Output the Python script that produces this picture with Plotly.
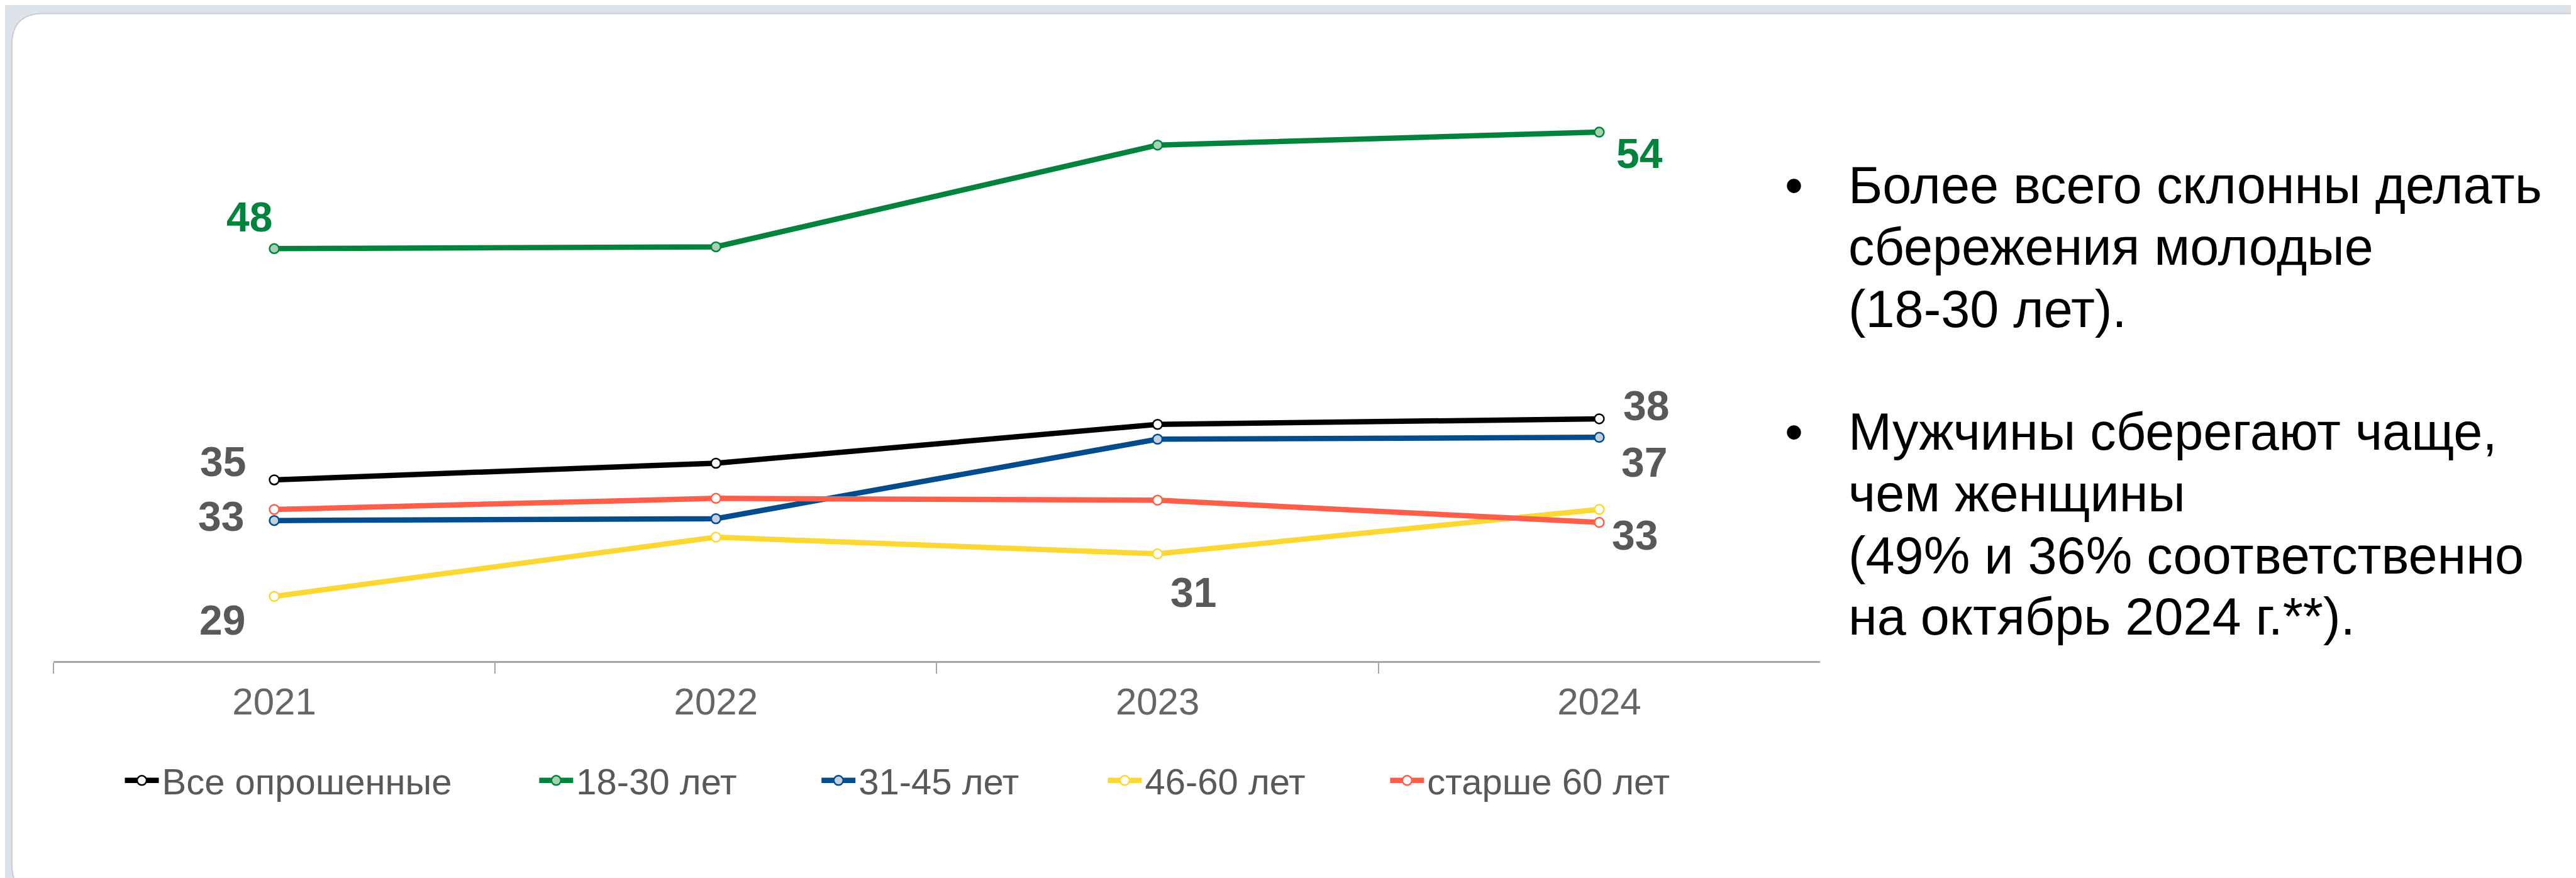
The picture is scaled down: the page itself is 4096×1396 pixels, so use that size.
import plotly.graph_objects as go

# ---------------- data ----------------
years = ["2021", "2022", "2023", "2024"]
all_resp = [35.1, 36.0, 38.1, 38.4]
age_18_30 = [47.6, 47.7, 53.2, 53.9]
age_31_45 = [32.9, 33.0, 37.3, 37.4]
age_46_60 = [28.8, 32.0, 31.1, 33.5]
age_60p = [33.5, 34.1, 34.0, 32.8]

series_names = ["Все опрошенные", "18-30 лет", "31-45 лет", "46-60 лет", "старше 60 лет"]
series_values = [all_resp, age_18_30, age_31_45, age_46_60, age_60p]

bullet_lines_1 = ["Более всего склонны делать", "сбережения молодые", "(18-30 лет)."]
bullet_lines_2 = ["Мужчины сберегают чаще,", "чем женщины",
                  "(49% и 36% соответственно", "на октябрь 2024 г.**)."]

# ---------------- geometry (reference px -> paper) ----------------
RW, RH = 4526, 1543
W, H = 4096, 1396
S = W / RW

def px(x):
    return x / RW

def py(y):
    return 1 - y / RH

FONT = "Liberation Sans, Arial, sans-serif"
line_colors = ["#000000", "#00833C", "#004C8C", "#FDD835", "#FF5F4A"]
marker_fills = ["#FFFFFF", "#A3D3B1", "#C3D0E2", "#FFFFFF", "#FFFFFF"]

fig = go.Figure()
for i, (name, vals) in enumerate(zip(series_names, series_values)):
    fig.add_trace(go.Scatter(
        x=years, y=vals, name=name, mode="lines+markers",
        line=dict(color=line_colors[i], width=8.5),
        marker=dict(size=15, color=marker_fills[i],
                    line=dict(color=line_colors[i], width=2.5)),
        legend="legend" if i == 0 else f"legend{i+1}",
        hoverinfo="skip",
    ))

# data labels: (series index, point index, dx, dy in reference px, color)
label_specs = [
    (1, 0, -44, -56, "#00833C"),
    (1, 3, 71, 37.6, "#00833C"),
    (0, 0, -90.6, -32.4, "#595959"),
    (2, 0, -93.6, -7.2, "#595959"),
    (3, 0, -91.6, 41.4, "#595959"),
    (0, 3, 82.7, -23, "#595959"),
    (2, 3, 79, 43.3, "#595959"),
    (4, 3, 62.5, 22.6, "#595959"),
    (3, 2, 63.4, 67.6, "#595959"),
]
annotations = []
for si, pi, dx, dy, col in label_specs:
    v = series_values[si][pi]
    annotations.append(dict(
        x=pi, y=v, xref="x", yref="y", text=f"<b>{round(v)}</b>",
        showarrow=False, xanchor="center", yanchor="middle",
        xshift=dx * S, yshift=-dy * S,
        font=dict(family=FONT, size=66, color=col),
    ))

# right-hand text
text_x = 3236
bullet_x = 3143
baselines_1 = [348, 457, 566]
baselines_2 = [782, 890, 999, 1107]
text_fs_ref = 91.5
center_off = 0.3465 * text_fs_ref
for lines, bases in ((bullet_lines_1, baselines_1), (bullet_lines_2, baselines_2)):
    annotations.append(dict(
        x=px(bullet_x), y=py(bases[0] - center_off), xref="paper", yref="paper",
        text="•", showarrow=False, xanchor="center", yanchor="middle",
        font=dict(family=FONT, size=text_fs_ref * S, color="#000000"),
    ))
    for t, b in zip(lines, bases):
        annotations.append(dict(
            x=px(text_x), y=py(b - center_off), xref="paper", yref="paper",
            text=t, showarrow=False, xanchor="left", yanchor="middle",
            font=dict(family=FONT, size=text_fs_ref * S, color="#000000"),
        ))

# white rounded panel
def P(x, y):
    return f"{px(x):.5f},{py(y):.5f}"

L, T, R, B, r = 12, 15, 4565, 1565, 55
panel_path = (f"M{P(L, T + r)} Q{P(L, T)} {P(L + r, T)} L{P(R - r, T)} "
              f"Q{P(R, T)} {P(R, T + r)} L{P(R, B - r)} Q{P(R, B)} {P(R - r, B)} "
              f"L{P(L + r, B)} Q{P(L, B)} {P(L, B - r)} Z")
shapes = [dict(type="path", xref="paper", yref="paper", path=panel_path,
               fillcolor="#FFFFFF", line=dict(color="#C9CED5", width=2), layer="below")]

legend_line_starts = [222, 950, 1446, 1949, 2445]
legend_y = 1363
legend_common = dict(orientation="h", xanchor="left", yanchor="middle",
                     bgcolor="rgba(0,0,0,0)", borderwidth=0, itemwidth=54,
                     font=dict(family=FONT, size=58, color="#595959"))
layout_legends = {}
for i, xs in enumerate(legend_line_starts):
    key = "legend" if i == 0 else f"legend{i+1}"
    layout_legends[key] = dict(x=px(xs - 17), y=py(legend_y), **legend_common)

fig.update_layout(
    width=W, height=H,
    margin=dict(l=0, r=0, t=0, b=0, pad=0),
    paper_bgcolor="#DEE3EA",
    plot_bgcolor="rgba(0,0,0,0)",
    showlegend=True,
    xaxis=dict(
        type="category", categoryorder="array", categoryarray=years,
        range=[-0.5, 3.5], domain=[px(85), px(3189)],
        showline=True, linecolor="#A6A6A6", linewidth=2.5,
        ticks="outside", tickson="boundaries", ticklen=17, tickwidth=1.5, tickcolor="#A6A6A6",
        ticklabelstandoff=10,
        tickfont=dict(family=FONT, size=60, color="#666666"),
        showgrid=False, zeroline=False, fixedrange=True,
    ),
    yaxis=dict(
        range=[25.3, 57.88], domain=[py(1153), py(94)],
        visible=False, showgrid=False, zeroline=False, fixedrange=True,
    ),
    annotations=annotations,
    shapes=shapes,
    **layout_legends,
)

fig.write_html("out.html")
